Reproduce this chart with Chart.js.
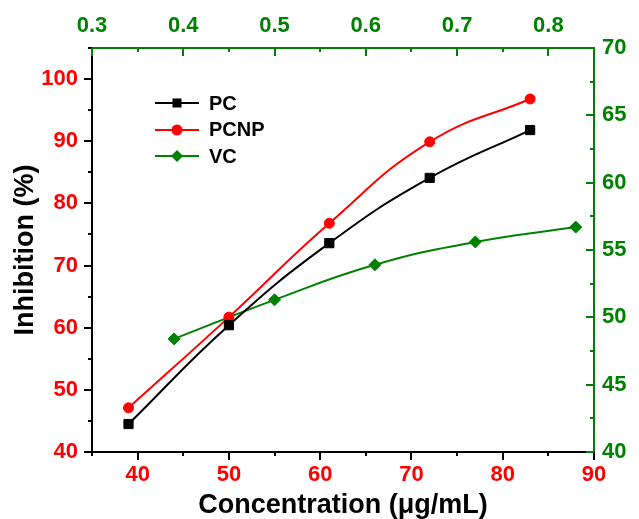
<!DOCTYPE html>
<html>
<head>
<meta charset="utf-8">
<script src="https://cdn.jsdelivr.net/npm/chart.js@4.4.1/dist/chart.umd.min.js"></script>
<style>
  html, body { margin: 0; padding: 0; background: #fff; }
  #wrap { position: relative; width: 639px; height: 519px; }
  #legend { position: absolute; left: 155px; top: 90px; font: bold 20px Arial, "Liberation Sans", sans-serif; color: #000; }
  .row { display: flex; align-items: center; height: 26.5px; }
  .row svg { margin-right: 10px; }
</style>
</head>
<body>
<div id="wrap">
  <canvas id="chart" width="639" height="519"></canvas>
  <div id="legend"></div>
</div>
<script>
// PC / PCNP: bottom axis (µg/mL) vs left axis (%)
const concentrations = [39, 50, 61, 72, 83];
const pcInhibition = [44.5, 60.4, 73.6, 84.1, 91.8];
const pcnpInhibition = [47.1, 61.7, 76.8, 89.9, 96.8];
// VC: top axis vs right axis
const vcConcentrations = [0.39, 0.50, 0.61, 0.72, 0.83];
const vcInhibition = [48.4, 51.3, 53.9, 55.6, 56.7];

const bottomTicks = [40, 50, 60, 70, 80, 90];
const bottomMinor = [35, 45, 55, 65, 75, 85];
const leftTicks = [40, 50, 60, 70, 80, 90, 100];
const leftMinor = [45, 55, 65, 75, 85, 95, 105];
const topTicks = [0.3, 0.4, 0.5, 0.6, 0.7, 0.8];
const topMinor = [0.35, 0.45, 0.55, 0.65, 0.75, 0.85];
const rightTicks = [40, 45, 50, 55, 60, 65, 70];
const rightMinor = [42.5, 47.5, 52.5, 57.5, 62.5, 67.5];

const RED = '#ff0000';
const GREEN = '#008000';

Chart.defaults.font.family = 'Arial, "Liberation Sans", sans-serif';

const toPoints = (xs, ys) => xs.map((x, i) => ({ x: x, y: ys[i] }));
const setTicks = list => scale => { scale.ticks = list.map(v => ({ value: v })); };

// major + minor tick marks, dir: +1 down/right, -1 up/left
const marks = {
  x:  { major: bottomTicks, minor: bottomMinor, color: '#000', dir: 1 },
  y:  { major: leftTicks, minor: leftMinor, color: '#000', dir: -1 },
  x2: { major: topTicks, minor: topMinor, color: GREEN, dir: 1 },
  y2: { major: rightTicks, minor: rightMinor, color: GREEN, dir: -1 }
};

const tickMarks = {
  id: 'tickMarks',
  afterDraw(chart) {
    const ctx = chart.ctx;
    Object.keys(marks).forEach(id => {
      const scale = chart.scales[id];
      const m = marks[id];
      ctx.save();
      ctx.strokeStyle = m.color;
      ctx.lineWidth = 2;
      const draw = (vals, len) => vals.forEach(v => {
        const p = Math.round(scale.getPixelForValue(v));
        ctx.beginPath();
        if (scale.isHorizontal()) {
          const y0 = scale.position === 'top' ? scale.bottom : scale.top;
          ctx.moveTo(p, y0);
          ctx.lineTo(p, y0 + m.dir * len);
        } else {
          const x0 = scale.position === 'left' ? scale.right : scale.left;
          ctx.moveTo(x0, p);
          ctx.lineTo(x0 + m.dir * len, p);
        }
        ctx.stroke();
      });
      draw(m.major, 8);
      draw(m.minor, 4);
      ctx.restore();
    });
  }
};

const gridOff = { display: true, drawOnChartArea: false, drawTicks: false };
const tickFont = { size: 22, weight: 'bold' };
const titleFont = { size: 27, weight: 'bold' };

new Chart(document.getElementById('chart'), {
  type: 'line',
  data: {
    datasets: [{
      label: 'PC',
      data: toPoints(concentrations, pcInhibition),
      xAxisID: 'x', yAxisID: 'y',
      borderColor: '#000', backgroundColor: '#000',
      borderWidth: 2, tension: 0.45,
      pointStyle: 'rect', pointRadius: 6.5, pointBorderWidth: 1
    }, {
      label: 'PCNP',
      data: toPoints(concentrations, pcnpInhibition),
      xAxisID: 'x', yAxisID: 'y',
      borderColor: RED, backgroundColor: RED,
      borderWidth: 2, tension: 0.45,
      pointStyle: 'circle', pointRadius: 5, pointBorderWidth: 1
    }, {
      label: 'VC',
      data: toPoints(vcConcentrations, vcInhibition),
      xAxisID: 'x2', yAxisID: 'y2',
      borderColor: GREEN, backgroundColor: GREEN,
      borderWidth: 2, tension: 0.45,
      pointStyle: 'rectRot', pointRadius: 6, pointBorderWidth: 1
    }]
  },
  options: {
    responsive: false,
    animation: false,
    layout: { padding: 0 },
    plugins: { legend: { display: false }, tooltip: { enabled: false } },
    scales: {
      x: {
        type: 'linear', position: 'bottom', min: 35, max: 90,
        afterBuildTicks: setTicks(bottomTicks),
        afterFit: s => { s.height = 67; },
        grid: gridOff, border: { color: '#000', width: 2 },
        ticks: { color: RED, font: tickFont, padding: 10, maxRotation: 0, autoSkip: false },
        title: { display: true, text: 'Concentration (μg/mL)', color: '#000', font: titleFont, padding: { top: 0, bottom: -3 } }
      },
      y: {
        type: 'linear', position: 'left', min: 40, max: 105,
        afterBuildTicks: setTicks(leftTicks),
        afterFit: s => { s.width = 92; },
        grid: gridOff, border: { color: '#000', width: 2 },
        ticks: { color: RED, font: tickFont, padding: 14, autoSkip: false },
        title: { display: true, text: 'Inhibition (%)', color: '#000', font: titleFont, padding: { top: 9, bottom: 0 } }
      },
      x2: {
        type: 'linear', position: 'top', min: 0.3, max: 0.85,
        afterBuildTicks: setTicks(topTicks),
        afterFit: s => { s.height = 48; },
        grid: gridOff, border: { color: GREEN, width: 2 },
        ticks: { color: GREEN, font: tickFont, padding: 9, maxRotation: 0, autoSkip: false,
                 callback: v => v.toFixed(1) }
      },
      y2: {
        type: 'linear', position: 'right', min: 40, max: 70,
        afterBuildTicks: setTicks(rightTicks),
        afterFit: s => { s.width = 45; },
        grid: gridOff, border: { color: GREEN, width: 2 },
        ticks: { color: GREEN, font: tickFont, padding: 8, autoSkip: false }
      }
    }
  },
  plugins: [tickMarks]
});

// legend: line with marker, like the original
const legendItems = [
  { label: 'PC', color: '#000', shape: 'square' },
  { label: 'PCNP', color: RED, shape: 'circle' },
  { label: 'VC', color: GREEN, shape: 'diamond' }
];
const shapes = {
  square: c => `<rect x="17.5" y="3.5" width="9" height="9" fill="${c}"/>`,
  circle: c => `<circle cx="22" cy="8" r="5.5" fill="${c}"/>`,
  diamond: c => `<polygon points="22,2 28,8 22,14 16,8" fill="${c}"/>`
};
document.getElementById('legend').innerHTML = legendItems.map(it => `
  <div class="row">
    <svg width="44" height="16" viewBox="0 0 44 16">
      <line x1="0" y1="8" x2="44" y2="8" stroke="${it.color}" stroke-width="2"/>
      ${shapes[it.shape](it.color)}
    </svg>
    <span>${it.label}</span>
  </div>`).join('');
</script>
</body>
</html>
